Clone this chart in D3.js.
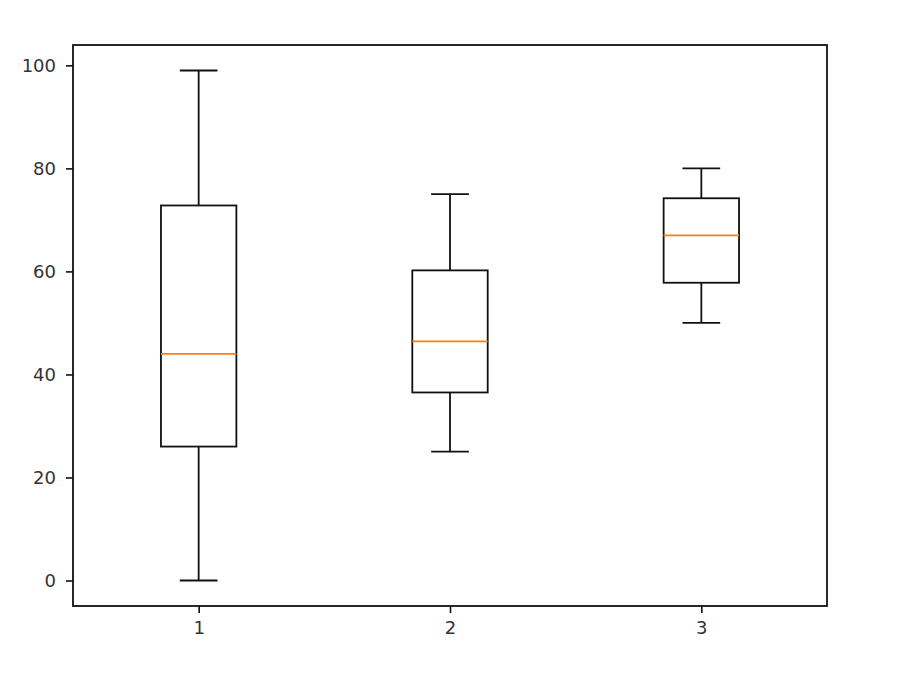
<!DOCTYPE html>
<html>
<head>
<meta charset="utf-8">
<script src="https://cdn.jsdelivr.net/npm/d3@7"></script>
<style>
  body { margin: 0; background: #fff; }
  svg { display: block; }
  .tick text { font-family: "DejaVu Sans", sans-serif; font-size: 18px; fill: #333; }
</style>
</head>
<body>
<script>
const categories = [1, 2, 3];
const whiskerLow = [0, 25, 50];
const q1 = [26, 36.5, 57.8];
const median = [44, 46.4, 67];
const q3 = [72.8, 60.2, 74.2];
const whiskerHigh = [99, 75, 80];
const yTicks = [0, 20, 40, 60, 80, 100];

const W = 912, H = 678;
const margin = { left: 73, right: 85, top: 45, bottom: 72 };

const svg = d3.select("body").append("svg").attr("width", W).attr("height", H);

const x = d3.scaleLinear().domain([0.5, 3.5]).range([margin.left, W - margin.right]);
const y = d3.scaleLinear().domain([-4.95, 103.95]).range([H - margin.bottom, margin.top]);

const unit = x(1) - x(0);
const boxW = 0.3 * unit;
const capW = 0.15 * unit;

const boxes = categories.map((c, i) => ({
	c: c, lo: whiskerLow[i], q1: q1[i], med: median[i], q3: q3[i], hi: whiskerHigh[i]
}));

const g = svg.append("g");
const stroke = "#111";
const lw = 1.8;

boxes.forEach((d) => {
	const cx = x(d.c);
	// whiskers
	g.append("line").attr("x1", cx).attr("x2", cx).attr("y1", y(d.lo)).attr("y2", y(d.q1))
		.attr("stroke", stroke).attr("stroke-width", lw);
	g.append("line").attr("x1", cx).attr("x2", cx).attr("y1", y(d.q3)).attr("y2", y(d.hi))
		.attr("stroke", stroke).attr("stroke-width", lw);
	// caps
	[d.lo, d.hi].forEach((v) => {
		g.append("line").attr("x1", cx - capW / 2).attr("x2", cx + capW / 2)
			.attr("y1", y(v)).attr("y2", y(v))
			.attr("stroke", stroke).attr("stroke-width", lw);
	});
	// box
	g.append("rect").attr("x", cx - boxW / 2).attr("width", boxW)
		.attr("y", y(d.q3)).attr("height", y(d.q1) - y(d.q3))
		.attr("fill", "none").attr("stroke", stroke).attr("stroke-width", lw);
	// median
	g.append("line").attr("x1", cx - boxW / 2).attr("x2", cx + boxW / 2)
		.attr("y1", y(d.med)).attr("y2", y(d.med))
		.attr("stroke", "#ff7f0e").attr("stroke-width", lw);
});

const xAxis = svg.append("g")
	.attr("transform", "translate(0," + (H - margin.bottom) + ")")
	.call(d3.axisBottom(x).tickValues(categories).tickFormat(d3.format("d")).tickSizeOuter(0).tickSize(7).tickPadding(8));
const yAxis = svg.append("g")
	.attr("transform", "translate(" + margin.left + ",0)")
	.call(d3.axisLeft(y).tickValues(yTicks).tickSizeOuter(0).tickSize(7).tickPadding(10));
[xAxis, yAxis].forEach((a) => {
	a.select(".domain").remove();
	a.selectAll(".tick line").attr("stroke", stroke).attr("stroke-width", 1.6);
});

// frame
svg.append("rect")
	.attr("x", margin.left).attr("y", margin.top)
	.attr("width", W - margin.left - margin.right)
	.attr("height", H - margin.top - margin.bottom)
	.attr("fill", "none").attr("stroke", stroke).attr("stroke-width", 1.8);
</script>
</body>
</html>
